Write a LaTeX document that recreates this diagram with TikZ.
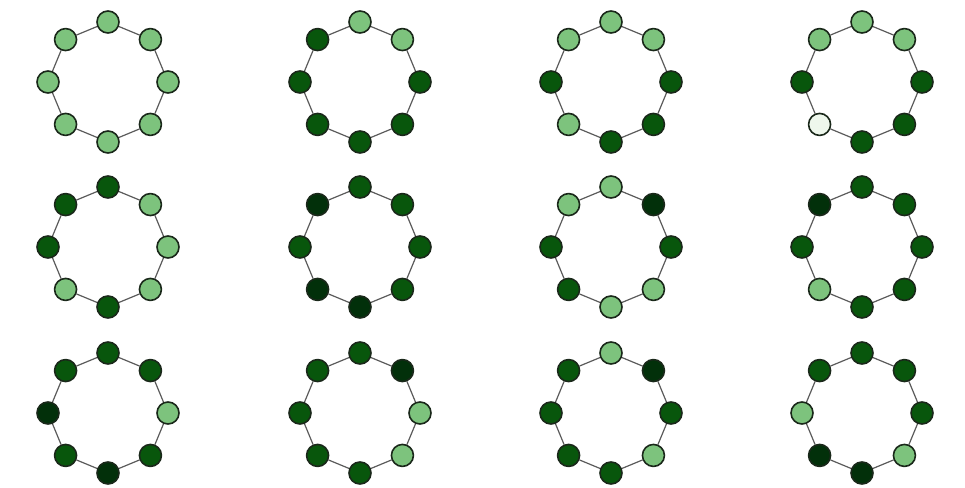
\documentclass[tikz,border=0pt]{standalone}
\definecolor{leaf}{HTML}{7DC37D}
\definecolor{forest}{HTML}{08560C}
\definecolor{pine}{HTML}{02300A}
\definecolor{mint}{HTML}{EEF7EC}
\definecolor{rim}{HTML}{1A281A}
\definecolor{wire}{HTML}{5A5A5A}
\usepackage{tikz}
\usetikzlibrary{calc}
\tikzset{
  ringnode/.style={circle, draw=rim, line width=1.6pt, minimum size=22pt, inner sep=0pt},
  ringedge/.style={draw=wire, line width=1.2pt},
}
\begin{document}
\begin{tikzpicture}[x=1pt,y=1pt]
\useasboundingbox (0,0) rectangle (965,487);
% 3x4 grid of rings, node 0 on top, then clockwise
\foreach \cx/\cy/\p/\cols in {
  108/405/1/{leaf,leaf,leaf,leaf,leaf,leaf,leaf,leaf},
  360/405/2/{leaf,leaf,forest,forest,forest,forest,forest,forest},
  611/405/3/{leaf,leaf,forest,forest,forest,leaf,forest,leaf},
  862/405/4/{leaf,leaf,forest,forest,forest,mint,forest,leaf},
  108/240/5/{forest,leaf,leaf,leaf,forest,leaf,forest,forest},
  360/240/6/{forest,forest,forest,forest,pine,pine,forest,pine},
  611/240/7/{leaf,pine,forest,leaf,leaf,forest,forest,leaf},
  862/240/8/{forest,forest,forest,forest,forest,leaf,forest,pine},
  108/74/9/{forest,forest,leaf,forest,pine,forest,pine,forest},
  360/74/10/{forest,pine,leaf,leaf,forest,forest,forest,forest},
  611/74/11/{leaf,pine,forest,leaf,forest,forest,forest,forest},
  862/74/12/{forest,forest,forest,leaf,pine,pine,leaf,forest}}{
  \foreach \c [count=\k from 0] in \cols
    \node[ringnode, fill=\c] (p\p-\k) at ($(\cx,\cy)+(90-45*\k:60)$) {};
  \foreach \k in {0,...,7}{
    \pgfmathtruncatemacro\j{mod(\k+1,8)}
    \draw[ringedge] (p\p-\k) -- (p\p-\j);
  }
}
\end{tikzpicture}
\end{document}
